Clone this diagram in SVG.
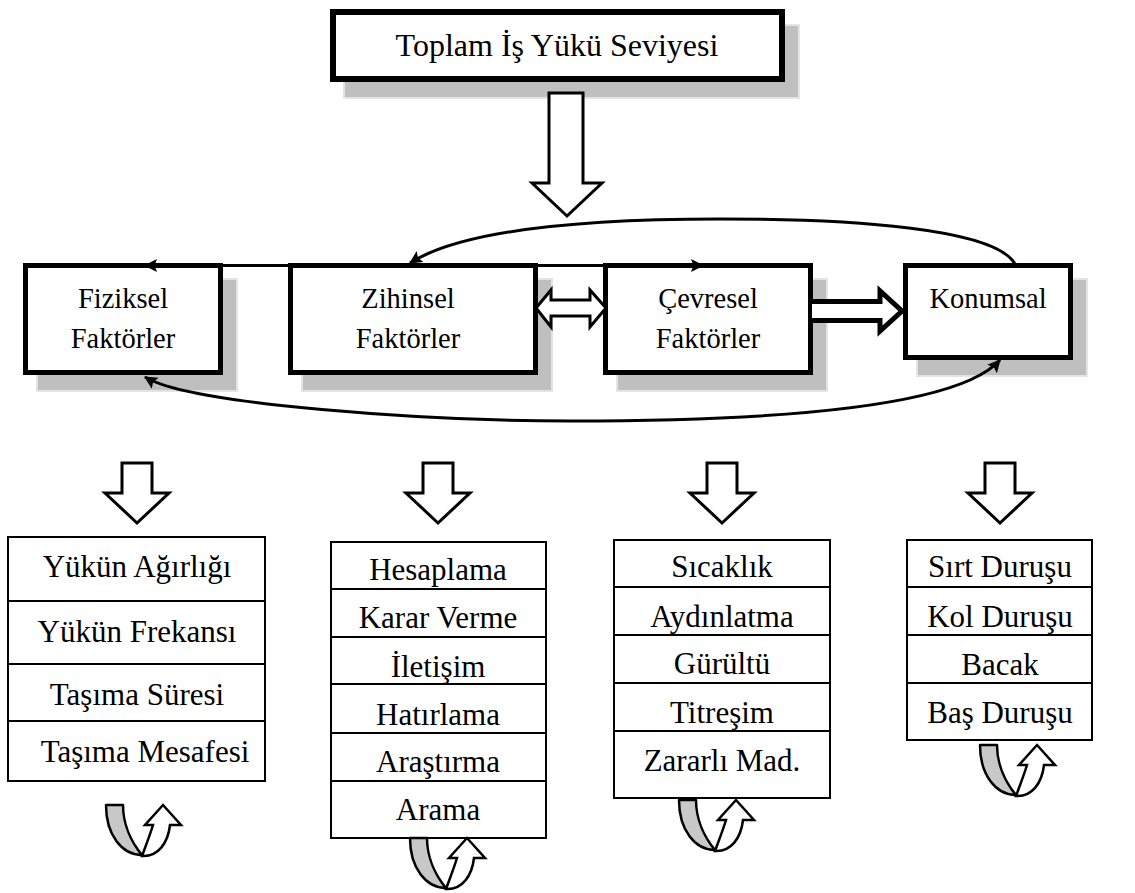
<svg xmlns="http://www.w3.org/2000/svg" width="1135" height="893" viewBox="0 0 1135 893">
<style>
.shadow{fill:#bfbfbf;stroke:#e4e4e4;stroke-width:2}
.box{fill:#fff;stroke:#000;stroke-width:5}
.big{fill:#fff;stroke:#000;stroke-width:6}
.list{fill:#fff;stroke:#000;stroke-width:2}
.div{stroke:#000;stroke-width:2}
.t{font-family:"Liberation Serif","Times New Roman",serif;fill:#000;text-anchor:middle}
.tm{font-size:28.5px}
.tl{font-size:31px}
.tt{font-size:32px}
.conn{fill:none;stroke:#000;stroke-width:3}
.hollow{fill:#fff;stroke:#000;stroke-width:3;stroke-linejoin:miter}
.ug{fill:#c8c8c8;stroke:#000;stroke-width:2.5;stroke-linejoin:round}
.uw{fill:#fff;stroke:#000;stroke-width:2.5;stroke-linejoin:miter}
</style>
<defs>
<marker id="ah" markerUnits="userSpaceOnUse" markerWidth="14" markerHeight="14" viewBox="0 0 14 14" refX="12" refY="7" orient="auto-start-reverse">
<path d="M0 0.5 L13 7 L0 13.5 L2.5 7 Z" fill="#000"/>
</marker>
<g id="uturn">
<path class="ug" d="M0 0 H17 C17 20 26 38 36 50 C16 50 0 30 0 0 Z"/>
<path class="uw" d="M36 51 C40 40 44 30 47 20 H39 L57 0 L75 20 H64 C62 38 52 52 36 51 Z"/>
</g>
<path id="down" d="M-15 0 H15 V30 H32 L0 60 L-32 30 H-15 Z"/>
</defs>

<g id="node-top">
<rect class="shadow" x="344" y="25" width="455" height="73"/>
<rect class="big" x="333" y="12" width="449" height="67"/>
<text class="t tt" x="557" y="56">Toplam İş Yükü Seviyesi</text>
</g>

<g id="arrow-main">
<path class="hollow" d="M549 93 H583 V183 H602 L567 216 L532 183 H549 Z"/>
</g>

<g id="node-fiziksel">
<rect class="shadow" x="37" y="279" width="200" height="112"/>
<rect class="box" x="25.5" y="265.5" width="195" height="107"/>
<text class="t tm" x="123" y="308">Fiziksel</text>
<text class="t tm" x="123" y="348">Faktörler</text>
</g>

<g id="node-zihinsel">
<rect class="shadow" x="302" y="279" width="250" height="112"/>
<rect class="box" x="290.5" y="265.5" width="245" height="107"/>
<text class="t tm" x="408" y="308">Zihinsel</text>
<text class="t tm" x="408" y="348">Faktörler</text>
</g>

<g id="node-cevresel">
<rect class="shadow" x="617" y="279" width="210" height="112"/>
<rect class="box" x="605.5" y="265.5" width="205" height="107"/>
<text class="t tm" x="708" y="308">Çevresel</text>
<text class="t tm" x="708" y="348">Faktörler</text>
</g>

<g id="node-konumsal">
<rect class="shadow" x="917" y="279" width="170" height="97"/>
<rect class="box" x="905.5" y="265.5" width="165" height="92"/>
<text class="t tm" x="988" y="308">Konumsal</text>
</g>

<g id="connectors">
<path class="conn" d="M400 265.5 L145 265.5" marker-end="url(#ah)"/>
<path class="conn" d="M400 265.5 L703 265.5" marker-end="url(#ah)"/>
<path class="conn" d="M1015 264 C995 228 850 219 720 219 C590 219 465 228 410 263" marker-end="url(#ah)"/>
<path class="conn" d="M145 377 C190 405 430 421 570 421 C790 421 960 405 1000 360" marker-start="url(#ah)" marker-end="url(#ah)"/>
<path class="hollow" d="M536 308 L551 290 V300 H590 V290 L606 308 L590 327 V316 H551 V327 Z"/>
<path class="hollow" style="stroke-width:5" d="M812 301.5 H880 V291 L902 311 L880 331 V320.5 H812"/>
<use href="#down" class="hollow" x="137" y="463"/>
<use href="#down" class="hollow" x="438" y="463"/>
<use href="#down" class="hollow" x="722" y="463"/>
<use href="#down" class="hollow" x="1000" y="463"/>
</g>

<g id="list-fiziksel">
<rect class="list" x="8" y="537" width="257" height="244"/>
<line class="div" x1="8" y1="601" x2="265" y2="601"/>
<line class="div" x1="8" y1="664" x2="265" y2="664"/>
<line class="div" x1="8" y1="721" x2="265" y2="721"/>
<text class="t tl" x="137" y="577">Yükün Ağırlığı</text>
<text class="t tl" x="137" y="642">Yükün Frekansı</text>
<text class="t tl" x="137" y="705">Taşıma Süresi</text>
<text class="t tl" x="145" y="762">Taşıma Mesafesi</text>
</g>

<g id="list-zihinsel">
<rect class="list" x="331" y="542" width="215" height="296"/>
<line class="div" x1="331" y1="589" x2="546" y2="589"/>
<line class="div" x1="331" y1="637" x2="546" y2="637"/>
<line class="div" x1="331" y1="684" x2="546" y2="684"/>
<line class="div" x1="331" y1="733" x2="546" y2="733"/>
<line class="div" x1="331" y1="781" x2="546" y2="781"/>
<text class="t tl" x="438" y="580">Hesaplama</text>
<text class="t tl" x="438" y="628">Karar Verme</text>
<text class="t tl" x="438" y="677">İletişim</text>
<text class="t tl" x="438" y="725">Hatırlama</text>
<text class="t tl" x="438" y="772">Araştırma</text>
<text class="t tl" x="438" y="820">Arama</text>
</g>

<g id="list-cevresel">
<rect class="list" x="614" y="540" width="216" height="258"/>
<line class="div" x1="614" y1="587" x2="830" y2="587"/>
<line class="div" x1="614" y1="635" x2="830" y2="635"/>
<line class="div" x1="614" y1="683" x2="830" y2="683"/>
<line class="div" x1="614" y1="731" x2="830" y2="731"/>
<text class="t tl" x="722" y="577">Sıcaklık</text>
<text class="t tl" x="722" y="627">Aydınlatma</text>
<text class="t tl" x="722" y="674">Gürültü</text>
<text class="t tl" x="722" y="723">Titreşim</text>
<text class="t tl" x="722" y="771">Zararlı Mad.</text>
</g>

<g id="list-konumsal">
<rect class="list" x="907" y="540" width="185" height="200"/>
<line class="div" x1="907" y1="587" x2="1092" y2="587"/>
<line class="div" x1="907" y1="635" x2="1092" y2="635"/>
<line class="div" x1="907" y1="683" x2="1092" y2="683"/>
<text class="t tl" x="1000" y="577">Sırt Duruşu</text>
<text class="t tl" x="1000" y="627">Kol Duruşu</text>
<text class="t tl" x="1000" y="675">Bacak</text>
<text class="t tl" x="1000" y="723">Baş Duruşu</text>
</g>

<g id="cycle-arrows">
<use href="#uturn" x="106" y="805"/>
<use href="#uturn" x="410" y="838"/>
<use href="#uturn" x="679" y="800"/>
<use href="#uturn" x="980" y="745"/>
</g>
</svg>
